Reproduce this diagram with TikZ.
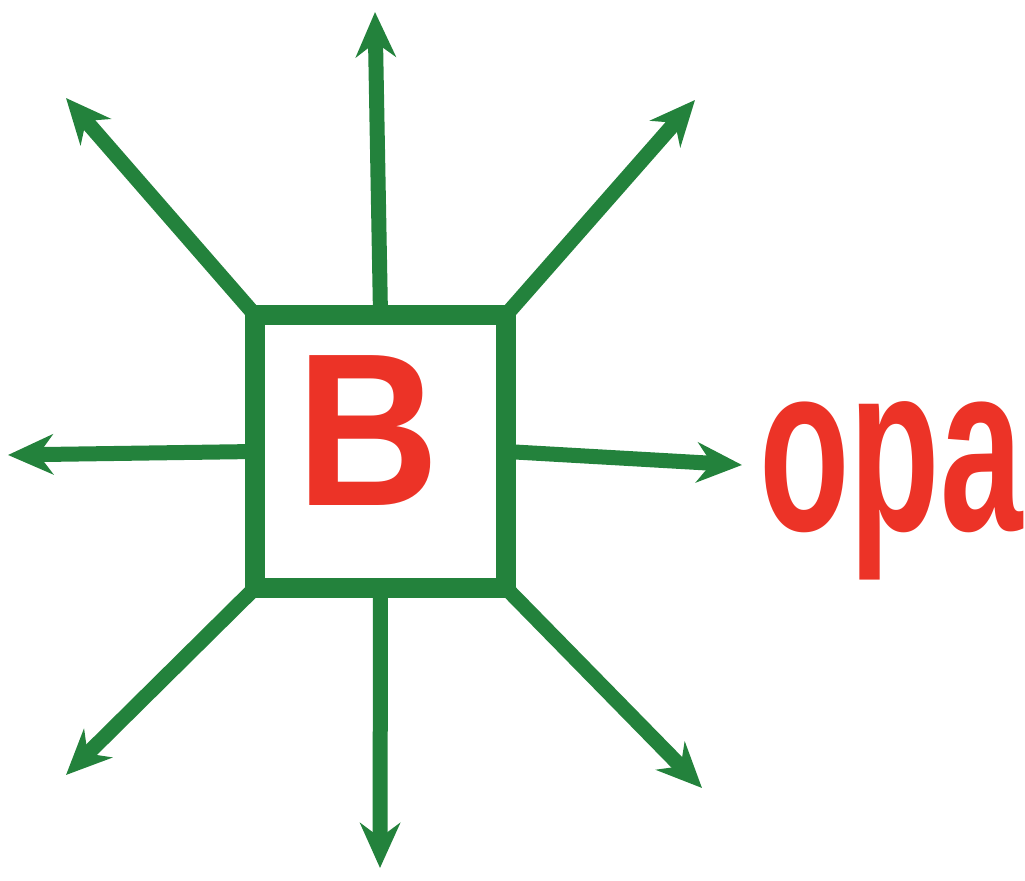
\documentclass[tikz,border=0pt]{standalone}
\usepackage{fontspec}
\setmainfont{Liberation Sans}
\usepackage{tikz}
\usetikzlibrary{arrows.meta,positioning}
\definecolor{paintgreen}{HTML}{23823C}
\definecolor{paintred}{HTML}{EC3327}
\begin{document}
\begin{tikzpicture}[>={Stealth[length=0.45cm,width=0.4cm]},
  frame/.style={draw=paintgreen,line width=0.2cm,minimum width=2.51cm,minimum height=2.73cm,inner sep=0pt,outer sep=0pt},
  ray/.style={->,draw=paintgreen,line width=0.15cm},
  letter/.style={text=paintred,font=\bfseries}]
\useasboundingbox (0,0) rectangle (10.25,8.8);
\node[frame] (box) at (3.805,4.285) {};
\node[letter,scale=6.2,xscale=0.91] (b) at (3.68,4.49) {B};
\node[letter,scale=6.8,xscale=0.62,anchor=base] (word) at (8.91,3.50) {opa};
% end points of the rays
\coordinate (n) at (3.75,8.68);
\coordinate (ne) at (6.95,7.80);
\coordinate (e) at (7.42,4.15);
\coordinate (se) at (7.02,0.92);
\coordinate (s) at (3.80,0.12);
\coordinate (sw) at (0.66,1.05);
\coordinate (w) at (0.08,4.25);
\coordinate (nw) at (0.66,7.82);
\draw[ray] (box.north) -- (n);
\draw[ray] (box.north east) -- (ne);
\draw[ray] (box.east) -- (e);
\draw[ray] (box.south east) -- (se);
\draw[ray] (box.south) -- (s);
\draw[ray] (box.south west) -- (sw);
\draw[ray] (box.west) -- (w);
\draw[ray] (box.north west) -- (nw);
\end{tikzpicture}
\end{document}
